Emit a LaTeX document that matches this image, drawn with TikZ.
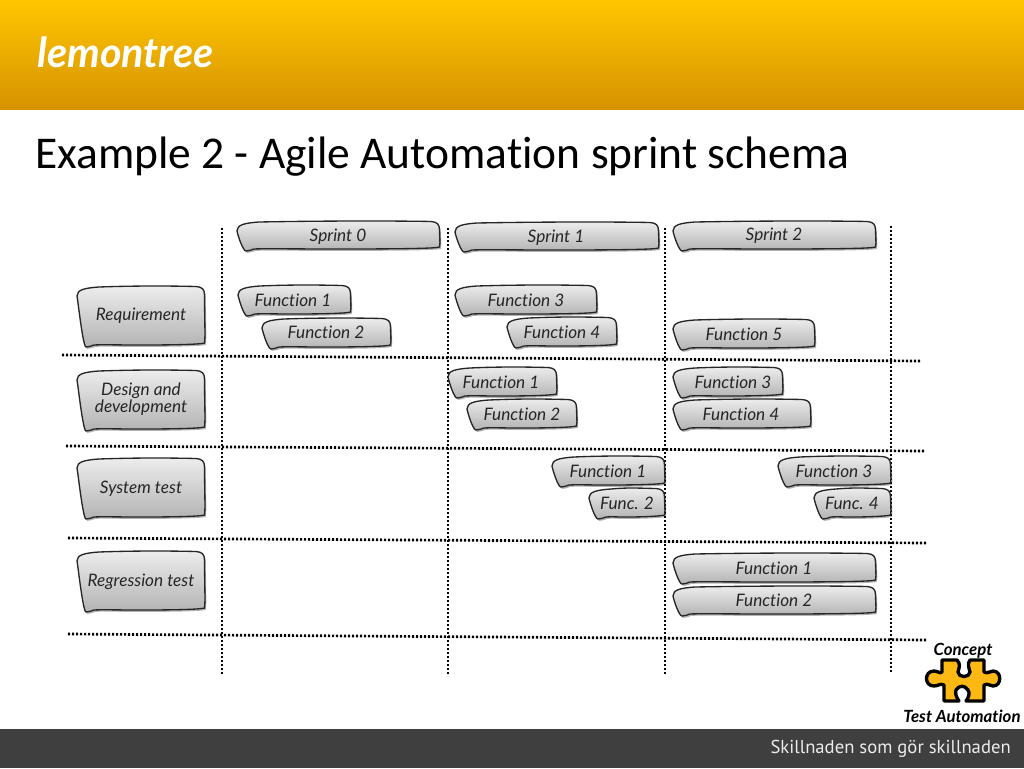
\documentclass[tikz,border=0pt]{standalone}
\usepackage{fontspec}
\setmainfont{Carlito}[Ligatures=NoCommon]
\newfontfamily\handfont{Lato}[ItalicFont=* Italic,Ligatures=NoCommon]
\newfontfamily\footfont{PT Sans}
\usetikzlibrary{shadows}
\definecolor{hdtop}{HTML}{FFC600}
\definecolor{hdbot}{HTML}{D69200}
\definecolor{footbg}{HTML}{3F3F3F}
\definecolor{puzzle}{HTML}{FDB813}
\tikzset{
  x=0.75pt,y=-0.75pt,
  blob/.style={draw=black!85,line width=1pt,top color=white!93!black,bottom color=black!30,
    drop shadow={shadow xshift=1pt,shadow yshift=-1.4pt,opacity=0.3,fill=black}},
  blobtext/.style={font=\handfont\itshape\fontsize{12.9}{12.6}\selectfont,text=black!85,align=center,inner sep=0pt},
  griddot/.style={line width=2pt,dash pattern=on 1.6pt off 1.4pt,black},
  puzzletext/.style={inner sep=0pt,font=\handfont\itshape\bfseries\fontsize{12.6}{14}\selectfont,text=black},
}
% name, L, T, R, B, text x, text y, text
\newcommand{\blobnode}[8]{%
  \path[blob]
   ({#2},{#3+10}) .. controls ({#2},{#3+4}) and ({#2+7},{#3+2}) .. ({#2+22},{#3+1})
   .. controls ({#2+0.5*(#4-#2)},{#3-0.5}) and ({#4-30},{#3}) .. ({#4-9},{#3+0.5})
   .. controls ({#4-3},{#3+1}) and ({#4-0.5},{#3+3}) .. ({#4-0.5},{#3+9})
   .. controls ({#4-0.5},{#3+0.5*(#5-#3)}) and ({#4+0.5},{#5-9}) .. ({#4-0.5},{#5-4})
   .. controls ({#4-3},{#5-3}) and ({#4-20},{#5-2}) .. ({#2+0.5*(#4-#2)},{#5-2})
   .. controls ({#2+0.3*(#4-#2)},{#5-2}) and ({#2+25},{#5-2.5}) .. ({#2+17},{#5-2})
   .. controls ({#2+14},{#5-1}) and ({#2+12},{#5}) .. ({#2+9},{#5})
   .. controls ({#2+6},{#5}) and ({#2+1},{#3+15}) .. ({#2},{#3+10}) -- cycle;
  \node[blobtext] (#1) at (#6,#7) {#8};
}
\begin{document}
\begin{tikzpicture}
\useasboundingbox (0,0) rectangle (1024,768);
\fill[white] (0,0) rectangle (1024,768);
\shade[top color=hdtop,bottom color=hdbot] (0,0) rectangle (1024,109.6);
\fill[footbg] (0,729) rectangle (1024,768);
\node[anchor=west,inner sep=0pt,text=white,font=\handfont\itshape\bfseries\fontsize{31}{30}\selectfont] (logo) at (37,52) {lemontree};
\node[anchor=west,inner sep=0pt,font=\fontsize{34.1}{36}\selectfont,text=black] (title) at (35,157) {Example 2 - Agile Automation sprint schema};
\node[anchor=east,inner sep=0pt,text=white!92!black,font=\footfont\fontsize{14}{14}\selectfont] (foot) at (1011,749) {Skillnaden som gör skillnaden};
% grid
\draw[griddot] (222,228) -- (222,675);
\draw[griddot] (448,228) -- (448,675);
\draw[griddot] (665,228) -- (665,675);
\draw[griddot] (891,226) -- (891,672);
\draw[griddot] (62,355) -- (920,361);
\draw[griddot] (66,446) -- (924,451);
\draw[griddot] (68,538) -- (927,543);
\draw[griddot] (68,634) -- (927,640);
% sprints
\blobnode{s0}{237}{221}{440}{251}{338}{237}{Sprint 0}
\blobnode{s1}{455}{222}{659}{252}{556}{238}{Sprint 1}
\blobnode{s2}{673}{221}{876}{251}{774}{236}{Sprint 2}
% row heads
\blobnode{req}{77}{286}{205}{347}{141}{316}{Requirement}
\blobnode{des}{77}{370}{205}{431}{141}{399}{Design and\\development}
\blobnode{sys}{77}{458}{205}{519}{141}{489}{System test}
\blobnode{reg}{77}{551}{205}{612}{141}{582}{Regression test}
% requirement
\blobnode{ra}{238}{285}{351}{316}{293}{300}{Function 1}
\blobnode{rb}{262}{318}{391}{349}{326}{332}{Function 2}
\blobnode{rc}{455}{285}{597}{316}{526}{300}{Function 3}
\blobnode{rd}{507}{317}{617}{348}{562}{332}{Function 4}
\blobnode{re}{673}{319}{815}{350}{744}{334}{Function 5}
% design
\blobnode{da}{448}{367}{557}{398}{501}{382}{Function 1}
\blobnode{db}{467}{399}{577}{430}{522}{414}{Function 2}
\blobnode{dc}{673}{367}{783}{398}{733}{382}{Function 3}
\blobnode{dd}{673}{399}{811}{430}{741}{414}{Function 4}
% system
\blobnode{sa}{552}{456}{665}{487}{608}{471}{Function 1}
\blobnode{sb}{589}{488}{665}{519}{627}{503}{Func. 2}
\blobnode{sc}{778}{456}{891}{487}{834}{471}{Function 3}
\blobnode{sd}{814}{488}{891}{519}{852}{503}{Func. 4}
% regression
\blobnode{ga}{673}{553}{876}{584}{774}{568}{Function 1}
\blobnode{gb}{673}{586}{876}{616}{774}{600}{Function 2}
% puzzle
\path[draw=black,line width=2.5pt,fill=puzzle,line join=round]
 (942,660) -- (957,660) .. controls (961,664) and (959,668) .. (958,672)
 .. controls (958,678) and (970,678) .. (970,672) .. controls (969,668) and (967,664) .. (970,660)
 -- (984,660) -- (984,672) .. controls (988,674) and (990,671) .. (993,671)
 .. controls (1002,671) and (1002,686) .. (993,686) .. controls (990,686) and (988,683) .. (984,685)
 -- (984,701) -- (966,701) .. controls (969,697) and (970,693) .. (968,690)
 .. controls (965,685) and (959,685) .. (956,690) .. controls (955,693) and (956,697) .. (959,701)
 -- (944,701) -- (944,685) .. controls (940,683) and (938,686) .. (934,686)
 .. controls (924,686) and (924,671) .. (934,671) .. controls (938,671) and (940,674) .. (942,672) -- cycle;
\node[puzzletext] (concept) at (963,651) {Concept};
\node[puzzletext] (ta) at (962,716) {Test Automation};
\end{tikzpicture}
\end{document}
